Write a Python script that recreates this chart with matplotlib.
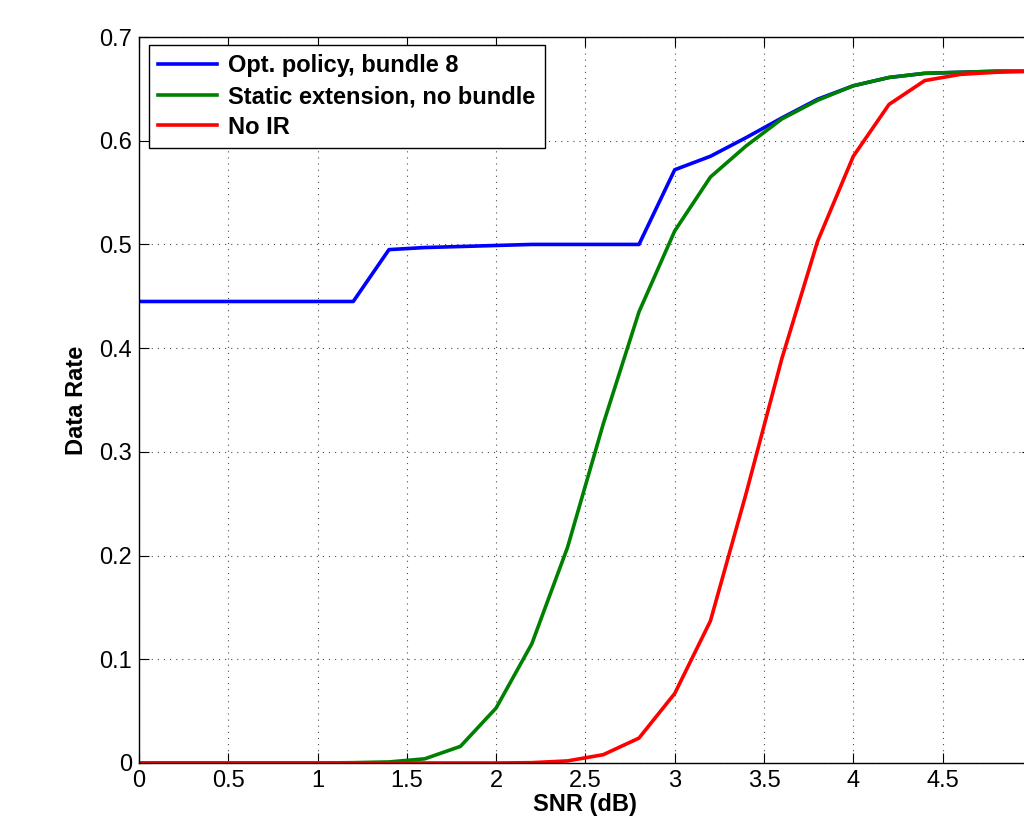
import numpy as np
import matplotlib.pyplot as plt

plt.rcParams['font.family'] = ['Liberation Sans', 'DejaVu Sans']

snr = np.round(np.arange(0, 5.01, 0.2), 1)

opt_bundle8 = [0.445, 0.445, 0.445, 0.445, 0.445, 0.445, 0.445, 0.495, 0.497, 0.498,
               0.499, 0.500, 0.500, 0.500, 0.500, 0.572, 0.585, 0.603, 0.622, 0.640,
               0.653, 0.661, 0.665, 0.666, 0.667, 0.667]
static_ext = [0.0, 0.0, 0.0, 0.0, 0.0, 0.0, 0.0003, 0.001, 0.004, 0.016,
              0.053, 0.115, 0.208, 0.327, 0.435, 0.513, 0.565, 0.595, 0.621, 0.639,
              0.653, 0.661, 0.665, 0.666, 0.667, 0.667]
no_ir = [0.0, 0.0, 0.0, 0.0, 0.0, 0.0, 0.0, 0.0, 0.0, 0.0,
         0.0, 0.0003, 0.002, 0.008, 0.024, 0.067, 0.137, 0.260, 0.390, 0.503,
         0.585, 0.635, 0.658, 0.664, 0.666, 0.667]

labels = ['Opt. policy, bundle 8', 'Static extension, no bundle', 'No IR']
colors = [(0, 0, 1), (0, 0.5, 0), (1, 0, 0)]

fig = plt.figure(figsize=(10.24, 8.19), dpi=100)
ax = fig.add_axes([0.1357, 0.0684, 0.872, 0.8864])

for y, lab, c in zip([opt_bundle8, static_ext, no_ir], labels, colors):
    ax.plot(snr, y, color=c, lw=2.6, label=lab)

ax.set_xlim(0, 5)
ax.set_ylim(0, 0.7)
# the tick at 5 sits past the right edge of the figure, so it gets no label
ax.set_xticks(np.arange(0, 5.01, 0.5))
ax.set_xticklabels(['0', '0.5', '1', '1.5', '2', '2.5', '3', '3.5', '4', '4.5', ''])
ax.set_yticks(np.arange(0, 0.71, 0.1))
ax.set_yticklabels(['0', '0.1', '0.2', '0.3', '0.4', '0.5', '0.6', '0.7'])
ax.tick_params(direction='in', top=True, right=True, length=7, width=0.8,
               labelsize=17, pad=5)
ax.grid(True, linestyle=(0, (1, 4.5)), color='black', lw=0.8, alpha=0.7)
for s in ax.spines.values():
    s.set_linewidth(1.0)

ax.set_xlabel('SNR (dB)', fontsize=17, fontweight='bold', labelpad=1)
ax.set_ylabel('Data Rate', fontsize=17, fontweight='bold', labelpad=8)

leg = ax.legend(loc='upper left', bbox_to_anchor=(0.011, 0.989), fancybox=False,
                framealpha=1, edgecolor='black', prop={'size': 17, 'weight': 'bold'},
                handlelength=2.5, borderpad=0.4, labelspacing=0.32, handletextpad=0.45,
                borderaxespad=0)
leg.get_frame().set_linewidth(1.0)

fig.savefig('out.png', dpi=100)
